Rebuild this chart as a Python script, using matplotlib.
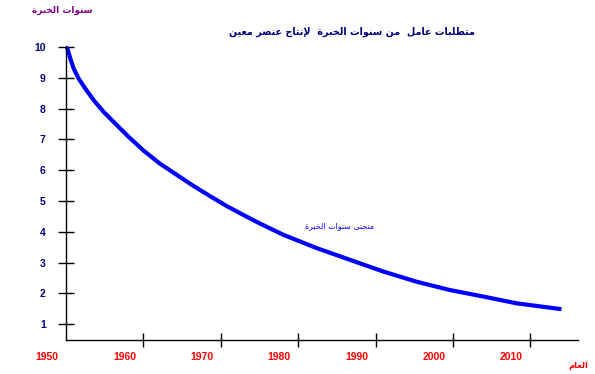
import matplotlib
matplotlib.use("Agg")
import matplotlib.pyplot as plt
import matplotlib.transforms as mtransforms

# curve
years = [1950.13, 1950.56, 1950.99, 1951.64, 1952.49, 1953.58, 1954.87, 1956.37, 1958.10,
		 1960.0, 1962.1, 1964.3, 1966.4, 1968.6, 1970.8, 1972.9, 1974.8, 1978.1, 1982.4,
		 1986.7, 1991.0, 1995.3, 1999.6, 2003.9, 2008.2, 2014.0]
experience = [10.0, 9.62, 9.30, 8.97, 8.65, 8.27, 7.89, 7.51, 7.08,
			  6.64, 6.22, 5.85, 5.50, 5.16, 4.83, 4.55, 4.30, 3.90, 3.47,
			  3.09, 2.71, 2.38, 2.11, 1.90, 1.68, 1.49]
x_ticks = [1950, 1960, 1970, 1980, 1990, 2000, 2010]
y_ticks = [1, 2, 3, 4, 5, 6, 7, 8, 9, 10]

title_text = "متطلبات عامل  من سنوات الخبرة  لإنتاج عنصر معين"
ylabel_text = "سنوات الخبرة"
xlabel_text = "العام"
curve_text = "منحنى سنوات الخبرة"

# minimal arabic shaping (matplotlib does no joining / bidi)
FORMS = {
	'ا': ('\uFE8D', '\uFE8E'), 'إ': ('\uFE87', '\uFE88'), 'ة': ('\uFE93', '\uFE94'),
	'ر': ('\uFEAD', '\uFEAE'), 'و': ('\uFEED', '\uFEEE'), 'ى': ('\uFEEF', '\uFEF0'),
	'ب': ('\uFE8F', '\uFE90', '\uFE91', '\uFE92'), 'ت': ('\uFE95', '\uFE96', '\uFE97', '\uFE98'),
	'ج': ('\uFE9D', '\uFE9E', '\uFE9F', '\uFEA0'), 'ح': ('\uFEA1', '\uFEA2', '\uFEA3', '\uFEA4'),
	'خ': ('\uFEA5', '\uFEA6', '\uFEA7', '\uFEA8'), 'س': ('\uFEB1', '\uFEB2', '\uFEB3', '\uFEB4'),
	'ص': ('\uFEB9', '\uFEBA', '\uFEBB', '\uFEBC'), 'ط': ('\uFEC1', '\uFEC2', '\uFEC3', '\uFEC4'),
	'ع': ('\uFEC9', '\uFECA', '\uFECB', '\uFECC'), 'ل': ('\uFEDD', '\uFEDE', '\uFEDF', '\uFEE0'),
	'م': ('\uFEE1', '\uFEE2', '\uFEE3', '\uFEE4'), 'ن': ('\uFEE5', '\uFEE6', '\uFEE7', '\uFEE8'),
	'ي': ('\uFEF1', '\uFEF2', '\uFEF3', '\uFEF4'),
}
LAM_ALEF = {'ا': ('\uFEFB', '\uFEFC'), 'إ': ('\uFEF9', '\uFEFA')}

def shape(text):
	items = []
	i = 0
	while i < len(text):
		if text[i] == 'ل' and i + 1 < len(text) and text[i + 1] in LAM_ALEF:
			items.append(LAM_ALEF[text[i + 1]])
			i += 2
		else:
			items.append(FORMS.get(text[i], text[i]))
			i += 1
	out = []
	for k, item in enumerate(items):
		if isinstance(item, str):
			out.append(item)
			continue
		prev = items[k - 1] if k > 0 else None
		nxt = items[k + 1] if k + 1 < len(items) else None
		join_prev = isinstance(prev, tuple) and len(prev) == 4
		join_next = len(item) == 4 and isinstance(nxt, tuple)
		if join_prev and join_next:
			out.append(item[3])
		elif join_prev:
			out.append(item[1])
		elif join_next:
			out.append(item[2])
		else:
			out.append(item[0])
	return ''.join(reversed(out))

W, H = 595, 374
fig = plt.figure(figsize=(W / 100, H / 100), dpi=100)
ax = fig.add_axes([66 / W, (H - 340.3) / H, (577.7 - 66) / W, (340.3 - 46) / H])

ax.plot(years, experience, color='#0000FF', linewidth=3, clip_on=False,
		solid_capstyle='butt', solid_joinstyle='round')

ax.set_xlim(1950, 2016.1)
ax.set_ylim(0.48, 10.03)
for side in ['top', 'right']:
	ax.spines[side].set_visible(False)
for side in ['left', 'bottom']:
	ax.spines[side].set_linewidth(1.0)
	ax.spines[side].set_color('black')

ax.set_yticks(y_ticks)
ax.set_yticklabels([str(v) for v in y_ticks], color='#000080', fontweight='bold',
				   fontsize=7.5, family='Liberation Sans')
ax.tick_params(axis='y', direction='inout', length=11, width=1, pad=9)

ax.set_xticks(x_ticks)
ax.set_xticklabels([str(v) for v in x_ticks], color='#FF0000', fontweight='bold',
				   fontsize=7.5, family='Liberation Sans')
ax.tick_params(axis='x', direction='inout', length=10.5, width=1, pad=3)
ax.xaxis.get_major_ticks()[0].tick1line.set_visible(False)
shift = mtransforms.ScaledTranslation(-19 / 100, 0, fig.dpi_scale_trans)
for label in ax.get_xticklabels():
	label.set_transform(label.get_transform() + shift)

arabic = ['DejaVu Sans']
fig.text(352 / W, 1 - 32 / H, shape(title_text), color='#000080', fontsize=6.9, fontweight='bold',
		 family=arabic, ha='center', va='center')
fig.text(62 / W, 1 - 10 / H, shape(ylabel_text), color='#800080', fontsize=6.5, fontweight='bold',
		 family=arabic, ha='center', va='center')
fig.text(578 / W, 1 - 365 / H, shape(xlabel_text), color='#FF0000', fontsize=6, fontweight='bold',
		 family=arabic, ha='center', va='center')
ax.text(1985.4, 4.19, shape(curve_text), color='#0000FF', fontsize=5.7, family=arabic,
		ha='center', va='center')

fig.savefig('out.png', dpi=100)
